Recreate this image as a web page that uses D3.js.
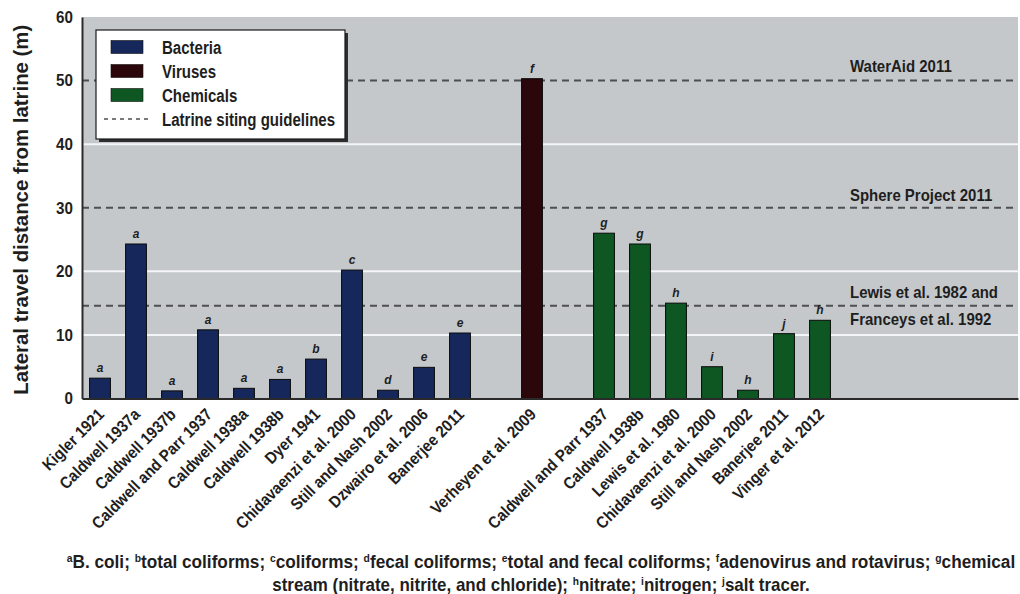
<!DOCTYPE html>
<html>
<head>
<meta charset="utf-8">
<script src="https://cdn.jsdelivr.net/npm/d3@7"></script>
<style>
  html, body { margin: 0; padding: 0; background: #ffffff; }
  svg { display: block; }
  text { font-family: "Liberation Sans", Arial, "DejaVu Sans Condensed", sans-serif; font-weight: bold; fill: #1e1e1e; }
</style>
</head>
<body>
<svg id="chart" width="1020" height="594"></svg>
<script>
// Lateral travel distance of contaminants from pit latrines, by study
const bacteriaStudies = ["Kigler 1921", "Caldwell 1937a", "Caldwell 1937b", "Caldwell and Parr 1937",
  "Caldwell 1938a", "Caldwell 1938b", "Dyer 1941", "Chidavaenzi et al. 2000",
  "Still and Nash 2002", "Dzwairo et al. 2006", "Banerjee 2011"];
const bacteriaValues = [3.2, 24.3, 1.2, 10.8, 1.6, 3.0, 6.2, 20.2, 1.3, 4.9, 10.3];
const bacteriaNotes = ["a", "a", "a", "a", "a", "a", "b", "c", "d", "e", "e"];

const virusStudies = ["Verheyen et al. 2009"];
const virusValues = [50.3];
const virusNotes = ["f"];

const chemicalStudies = ["Caldwell and Parr 1937", "Caldwell 1938b", "Lewis et al. 1980",
  "Chidavaenzi et al. 2000", "Still and Nash 2002", "Banerjee 2011", "Vinger et al. 2012"];
const chemicalValues = [26.0, 24.3, 15.0, 5.0, 1.3, 10.2, 12.3];
const chemicalNotes = ["g", "g", "h", "i", "h", "j", "h"];

const groupNames = ["Bacteria", "Viruses", "Chemicals"];
const groupColors = ["#15275b", "#2b070b", "#0e5622"];

const guidelineNames = ["WaterAid 2011", "Sphere Project 2011", "Lewis et al. 1982 and|Franceys et al. 1992"];
const guidelineValues = [50, 30, 14.6];

const yTicks = [0, 10, 20, 30, 40, 50, 60];
const yTitle = "Lateral travel distance from latrine (m)";

const footnoteLines = [
  [["a", "B. coli; "], ["b", "total coliforms; "], ["c", "coliforms; "], ["d", "fecal coliforms; "],
   ["e", "total and fecal coliforms; "], ["f", "adenovirus and rotavirus; "], ["g", "chemical"]],
  [["", "stream (nitrate, nitrite, and chloride); "], ["h", "nitrate; "], ["i", "nitrogen; "], ["j", "salt tracer."]]
];

// narrow the glyphs of each text by a factor, giving a condensed face
function condense(sel, f) {
  sel.each(function () {
    const n = this;
    n.setAttribute("textLength", n.getComputedTextLength() * f);
    n.setAttribute("lengthAdjust", "spacingAndGlyphs");
  });
}

// ---- assemble bar records, one empty slot between groups ----
const groups = [
  { studies: bacteriaStudies, values: bacteriaValues, notes: bacteriaNotes },
  { studies: virusStudies, values: virusValues, notes: virusNotes },
  { studies: chemicalStudies, values: chemicalValues, notes: chemicalNotes }
];
const bars = [];
const slots = [];
groups.forEach((g, gi) => {
  if (gi > 0) slots.push("gap" + gi);
  g.studies.forEach((s, i) => {
    const key = gi + ":" + i;
    slots.push(key);
    bars.push({ key, label: s, value: g.values[i], note: g.notes[i], group: gi });
  });
});
// empty room on the right of the plot for the guideline labels
const totalSlots = 26;
for (let k = slots.length; k < totalSlots; k++) slots.push("pad" + k);

const svg = d3.select("#chart");
const plot = { left: 82, right: 1018, top: 17, bottom: 398.5 };

const x = d3.scaleBand().domain(slots).range([plot.left, plot.right])
  .paddingInner(0.42).paddingOuter(0.21);
const y = d3.scaleLinear().domain([0, 60]).range([plot.bottom, plot.top]);

// plot background
svg.append("rect")
  .attr("x", plot.left).attr("y", plot.top)
  .attr("width", plot.right - plot.left).attr("height", plot.bottom - plot.top)
  .attr("fill", "#c5c8cb");

// white gridlines at the ticks not covered by guidelines
svg.append("g")
  .selectAll("line")
  .data(yTicks.filter(t => t > 0 && t < 60 && !guidelineValues.includes(t)))
  .join("line")
  .attr("x1", plot.left).attr("x2", plot.right)
  .attr("y1", d => y(d)).attr("y2", d => y(d))
  .attr("stroke", "#f4f5f6").attr("stroke-width", 2);

// guideline dashed lines
svg.append("g")
  .selectAll("line")
  .data(guidelineValues)
  .join("line")
  .attr("x1", plot.left).attr("x2", plot.right)
  .attr("y1", d => y(d)).attr("y2", d => y(d))
  .attr("stroke", "#4d4f52").attr("stroke-width", 2)
  .attr("stroke-dasharray", "7,5");

// guideline labels
const gl = svg.append("g");
guidelineNames.forEach((name, i) => {
  const parts = name.split("|");
  const yy = y(guidelineValues[i]);
  if (parts.length === 1) {
    gl.append("text").attr("x", 850).attr("y", yy - (i === 0 ? 9 : 6.5))
      .attr("font-size", 17).text(parts[0]);
  } else {
    gl.append("text").attr("x", 850).attr("y", yy - 7.5)
      .attr("font-size", 17).text(parts[0]);
    gl.append("text").attr("x", 850).attr("y", yy + 19.5)
      .attr("font-size", 17).text(parts[1]);
  }
});
gl.selectAll("text").call(condense, 0.88);

// bars
svg.append("g")
  .selectAll("rect")
  .data(bars)
  .join("rect")
  .attr("x", d => x(d.key))
  .attr("width", x.bandwidth())
  .attr("y", d => y(d.value))
  .attr("height", d => y(0) - y(d.value))
  .attr("fill", d => groupColors[d.group])
  .attr("stroke", "#0b0b0b").attr("stroke-width", 1);

// note letters above bars
svg.append("g")
  .selectAll("text")
  .data(bars)
  .join("text")
  .attr("x", d => x(d.key) + x.bandwidth() / 2)
  .attr("y", d => y(d.value) - 6)
  .attr("text-anchor", "middle")
  .attr("font-size", 12)
  .attr("font-style", "italic")
  .text(d => d.note);

// axes
const yAxis = d3.axisLeft(y).tickValues(yTicks).tickSize(0).tickPadding(9).tickFormat(d3.format("d"));
const gy = svg.append("g").attr("transform", `translate(${plot.left},0)`).call(yAxis);
gy.select(".domain").attr("stroke", "#2a2a2a").attr("stroke-width", 2);
gy.selectAll(".tick text")
  .attr("font-family", null).attr("font-size", 16.5).attr("fill", "#1e1e1e")
  .call(condense, 0.92);

const xAxis = d3.axisBottom(x).tickValues(bars.map(b => b.key)).tickSize(0)
  .tickFormat(k => bars.find(b => b.key === k).label);
const gx = svg.append("g").attr("transform", `translate(0,${plot.bottom})`).call(xAxis);
gx.select(".domain").attr("stroke", "#2a2a2a").attr("stroke-width", 2);
gx.selectAll(".tick text")
  .attr("font-family", null).attr("font-size", 16.5).attr("fill", "#1e1e1e")
  .attr("text-anchor", "end")
  .attr("dy", null).attr("y", 0)
  .attr("transform", "translate(5,17) rotate(-45)")
  .call(condense, 0.9);

// y axis title
svg.append("text")
  .attr("transform", `translate(28,${(plot.top + plot.bottom) / 2 + 2}) rotate(-90)`)
  .attr("text-anchor", "middle")
  .attr("font-size", 20.5)
  .text(yTitle)
  .attr("textLength", 370).attr("lengthAdjust", "spacingAndGlyphs");

// legend
const legend = svg.append("g");
legend.append("rect").attr("x", 99).attr("y", 33).attr("width", 249).attr("height", 109)
  .attr("fill", "#2e2e2e");
legend.append("rect").attr("x", 96).attr("y", 30).attr("width", 249).attr("height", 109)
  .attr("fill", "#ffffff").attr("stroke", "#1a1a1a").attr("stroke-width", 1.2);
groupNames.forEach((name, i) => {
  const cy = 47 + i * 24;
  legend.append("rect").attr("x", 111).attr("y", cy - 6.5).attr("width", 32).attr("height", 13)
    .attr("fill", groupColors[i]).attr("stroke", "#111").attr("stroke-width", 0.6);
  legend.append("text").attr("x", 162).attr("y", cy + 6.5).attr("font-size", 17.5).text(name);
});
legend.append("line").attr("x1", 104).attr("x2", 150).attr("y1", 119).attr("y2", 119)
  .attr("stroke", "#4d4f52").attr("stroke-width", 1.5).attr("stroke-dasharray", "4,4");
legend.append("text").attr("x", 162).attr("y", 125.5).attr("font-size", 17.5)
  .text("Latrine siting guidelines");
legend.selectAll("text").call(condense, 0.86);

// footnote, each line squeezed to its printed width
const footWidths = [949, 538];
footnoteLines.forEach((line, li) => {
  const g = svg.append("g");
  const t = g.append("text")
    .attr("x", 0).attr("y", 0)
    .attr("text-anchor", "middle")
    .attr("font-size", 17.5);
  line.forEach(([sup, txt]) => {
    if (sup) t.append("tspan").attr("font-size", 10.5).attr("dy", -6.5).text(sup);
    t.append("tspan").attr("dy", sup ? 6.5 : 0).text(txt);
  });
  const s = footWidths[li] / t.node().getComputedTextLength();
  g.attr("transform", `translate(541,${568 + li * 23}) scale(${s},1)`);
});
</script>
</body>
</html>
